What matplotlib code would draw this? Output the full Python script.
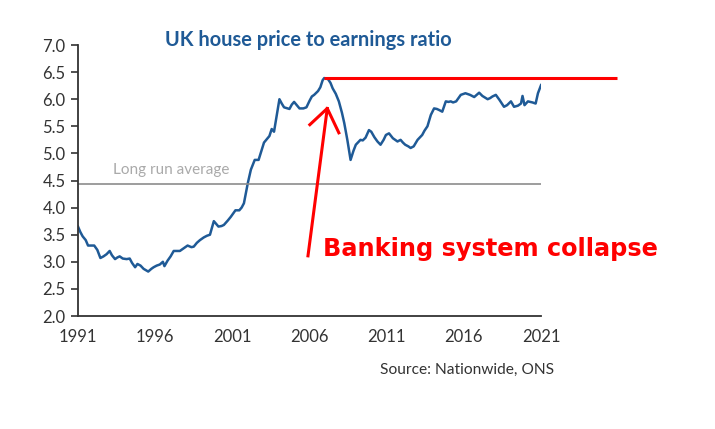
import matplotlib.pyplot as plt
import numpy as np

# house price to earnings ratio (fractional years)
years = np.array([
    1991.0, 1991.15, 1991.3, 1991.5, 1991.65, 1991.85, 1992.05, 1992.25, 1992.45, 1992.65,
    1992.85, 1993.05, 1993.2, 1993.4, 1993.55, 1993.7, 1993.9, 1994.15, 1994.35, 1994.5,
    1994.7, 1994.85, 1995.05, 1995.25, 1995.55, 1995.75, 1995.9, 1996.1, 1996.3, 1996.5,
    1996.6, 1996.8, 1997.0, 1997.2, 1997.4, 1997.6, 1997.85, 1998.1, 1998.35, 1998.5,
    1998.7, 1998.9, 1999.15, 1999.35, 1999.55, 1999.8, 2000.1, 2000.3, 2000.45, 2000.7,
    2000.9, 2001.2, 2001.45, 2001.6, 2001.75, 2001.9, 2002.0, 2002.2, 2002.45, 2002.7,
    2003.05, 2003.25, 2003.4, 2003.55, 2003.7, 2004.05, 2004.2, 2004.35, 2004.7, 2004.85,
    2005.0, 2005.2, 2005.35, 2005.6, 2005.8, 2006.0, 2006.15, 2006.3, 2006.55, 2006.7,
    2006.85, 2006.95, 2007.2, 2007.36, 2007.5, 2007.7, 2007.9, 2008.1, 2008.25, 2008.45,
    2008.66, 2008.85, 2009.0, 2009.3, 2009.45, 2009.63, 2009.85, 2010.0, 2010.2, 2010.4,
    2010.6, 2010.8, 2010.95, 2011.15, 2011.4, 2011.7, 2011.9, 2012.05, 2012.2, 2012.4,
    2012.55, 2012.75, 2013.0, 2013.3, 2013.45, 2013.64, 2013.86, 2014.07, 2014.25, 2014.4,
    2014.6, 2014.83, 2015.0, 2015.15, 2015.3, 2015.5, 2015.8, 2016.1, 2016.4, 2016.67,
    2016.99, 2017.2, 2017.54, 2017.7, 2017.85, 2018.07, 2018.3, 2018.6, 2018.8, 2019.05,
    2019.25, 2019.5, 2019.7, 2019.8, 2019.93, 2020.15, 2020.45, 2020.65, 2020.8, 2021.0,
])
ratio = np.array([
    3.65, 3.55, 3.47, 3.40, 3.30, 3.30, 3.30, 3.22, 3.07, 3.10,
    3.14, 3.20, 3.12, 3.05, 3.08, 3.10, 3.06, 3.05, 3.06, 2.98,
    2.90, 2.96, 2.93, 2.87, 2.82, 2.87, 2.90, 2.93, 2.95, 3.00,
    2.92, 3.02, 3.10, 3.20, 3.20, 3.20, 3.25, 3.30, 3.27, 3.28,
    3.35, 3.40, 3.45, 3.48, 3.50, 3.75, 3.65, 3.66, 3.68, 3.76,
    3.83, 3.95, 3.95, 4.00, 4.08, 4.30, 4.45, 4.70, 4.88, 4.88,
    5.20, 5.27, 5.32, 5.45, 5.40, 6.00, 5.92, 5.85, 5.82, 5.90,
    5.95, 5.88, 5.83, 5.83, 5.85, 5.97, 6.05, 6.08, 6.15, 6.22,
    6.35, 6.39, 6.37, 6.30, 6.20, 6.10, 5.96, 5.75, 5.56, 5.25,
    4.88, 5.05, 5.16, 5.25, 5.24, 5.29, 5.43, 5.40, 5.30, 5.22,
    5.16, 5.25, 5.34, 5.37, 5.28, 5.22, 5.25, 5.20, 5.16, 5.13,
    5.10, 5.13, 5.25, 5.34, 5.42, 5.50, 5.71, 5.83, 5.82, 5.80,
    5.77, 5.96, 5.95, 5.96, 5.94, 5.96, 6.08, 6.11, 6.08, 6.04,
    6.12, 6.06, 6.00, 6.02, 6.05, 6.08, 5.99, 5.86, 5.89, 5.96,
    5.86, 5.88, 5.92, 6.06, 5.89, 5.96, 5.94, 5.92, 6.11, 6.26,
])

long_run_avg = 4.44
peak_year = 2006.95
peak_value = 6.39

x_ticks = [1991, 1996, 2001, 2006, 2011, 2016, 2021]
y_ticks = np.arange(2.0, 7.01, 0.5)

fig = plt.figure(figsize=(7.15, 4.29), dpi=100)
ax = fig.add_axes([0.1091, 0.2634, 0.6476, 0.6317])

ax.plot(years, ratio, color='#1f5a96', lw=1.8)
ax.axhline(long_run_avg, color='#8c8c8c', lw=1.2)
ax.text(1993.25, 4.685, 'Long run average', color='#aaaaaa', fontsize=11,
        family='Lato', va='center', ha='left')

ax.set_xlim(1991, 2021)
ax.set_ylim(2, 7)
ax.set_xticks(x_ticks)
ax.set_yticks(y_ticks)
ax.set_yticklabels([f'{v:.1f}' for v in y_ticks])
ax.tick_params(axis='x', length=0, pad=9, labelsize=12, labelcolor='#333333')
ax.tick_params(axis='y', length=5, width=1.2, color='#333333', pad=4,
               labelsize=12, labelcolor='#333333')
for lab in ax.get_xticklabels() + ax.get_yticklabels():
    lab.set_family('Lato')

for side in ['top', 'right']:
    ax.spines[side].set_visible(False)
for side in ['left', 'bottom']:
    ax.spines[side].set_color('#333333')
    ax.spines[side].set_linewidth(1.3)

# red annotation: peak line, hand drawn arrow, label
ax.plot([peak_year, 2025.9], [peak_value, peak_value], color='red', lw=2.2,
        clip_on=False, solid_capstyle='butt')
ax.plot([2005.9, 2007.15], [3.11, 5.83], color='red', lw=2.2, clip_on=False)
ax.plot([2006.02, 2007.15, 2007.9], [5.53, 5.83, 5.38], color='red', lw=2.2,
        clip_on=False)
ax.text(2006.9, 3.1, 'Banking system collapse', color='red', fontsize=17.3,
        fontweight='bold', ha='left', va='baseline')

fig.text(0.431, 0.907, 'UK house price to earnings ratio', color='#1f5a96',
         fontsize=14.4, family='Lato', fontweight='bold', ha='center', va='center')
fig.text(0.775, 0.1375, 'Source: Nationwide, ONS', color='#333333',
         fontsize=11.2, family='Lato', ha='right', va='center')

fig.savefig('out.png', dpi=100)
